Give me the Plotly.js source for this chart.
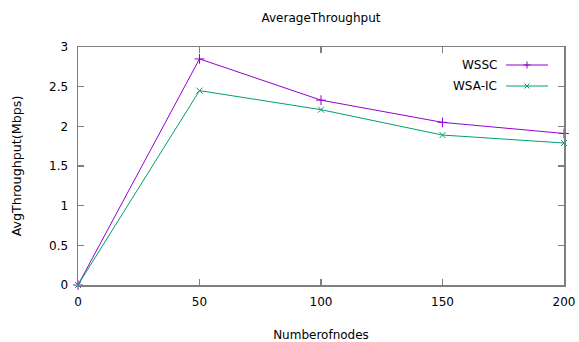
<!DOCTYPE html>
<html>
<head>
<meta charset="utf-8">
<script src="https://cdn.plot.ly/plotly-3.0.1.min.js"></script>
<style>html,body{margin:0;padding:0;background:#fff;}#chart{width:579px;height:342px;}</style>
</head>
<body>
<div id="chart"></div>
<script>
const nodes = [0, 50, 100, 150, 200];
const wssc = [0, 2.85, 2.33, 2.05, 1.91];
const wsaic = [0, 2.45, 2.21, 1.89, 1.79];
const seriesNames = ['WSSC', 'WSA-IC'];
const xTicks = [0, 50, 100, 150, 200];
const yTicks = [0, 0.5, 1, 1.5, 2, 2.5, 3];
const yTickText = ['0', '0.5', '1', '1.5', '2', '2.5', '3'];

const colors = ['#9400D3', '#009E73'];
const font = {family: 'DejaVu Sans', size: 12, color: '#000'};

const traces = [
  {x: nodes, y: wssc, name: seriesNames[0], mode: 'lines+markers', type: 'scatter',
   line: {color: colors[0], width: 1},
   marker: {symbol: 'cross-thin', size: 7, line: {color: colors[0], width: 1}, color: colors[0]},
   cliponaxis: false},
  {x: nodes, y: wsaic, name: seriesNames[1], mode: 'lines+markers', type: 'scatter',
   line: {color: colors[1], width: 1},
   marker: {symbol: 'x-thin', size: 6, line: {color: colors[1], width: 1}, color: colors[1]},
   cliponaxis: false}
];

// custom gnuplot-style legend (text left, sample right), positioned in pixels
const L = 78, R = 564, T = 47, B = 285;
const W = 579, H = 342;
const px = v => (v - L) / (R - L), py = v => (B - v) / (B - T);
const legendRows = [65, 86];
const shapes = [];
const annotations = [];
const ln = (x0, y0, x1, y1, c) => ({type: 'line', xref: 'paper', yref: 'paper',
  x0: px(x0), x1: px(x1), y0: py(y0), y1: py(y1), line: {color: c, width: 1}});
legendRows.forEach((yy, i) => {
  shapes.push(ln(506, yy, 548, yy, colors[i]));
  if (i === 0) {
    shapes.push(ln(527, yy - 3.5, 527, yy + 3.5, colors[i]));
    shapes.push(ln(523.5, yy, 530.5, yy, colors[i]));
  } else {
    shapes.push(ln(524.5, yy - 2.5, 529.5, yy + 2.5, colors[i]));
    shapes.push(ln(524.5, yy + 2.5, 529.5, yy - 2.5, colors[i]));
  }
  annotations.push({xref: 'paper', yref: 'paper', x: px(499), y: py(yy), xanchor: 'right', yanchor: 'middle',
                    text: seriesNames[i], showarrow: false, font: font});
});

const layout = {
  width: W, height: H,
  margin: {l: L, r: W - R, t: T, b: H - B, pad: 0},
  paper_bgcolor: '#fff', plot_bgcolor: '#fff',
  font: font,
  showlegend: false,
  title: {text: 'AverageThroughput', font: font, x: 0.5, xanchor: 'center', y: 1 - 18 / H, yanchor: 'middle', xref: 'paper', yref: 'container'},
  xaxis: {
    range: [0, 200], tickvals: xTicks, ticktext: xTicks.map(String),
    ticks: 'inside', ticklen: 6, tickwidth: 1.5, tickcolor: '#7f7f7f',
    showline: true, linecolor: '#7f7f7f', linewidth: 1.5, mirror: 'ticks',
    showgrid: false, zeroline: false, tickfont: font, ticklabelstandoff: 5,
    title: {text: 'Numberofnodes', font: font, standoff: 22}
  },
  yaxis: {
    range: [0, 3], tickvals: yTicks, ticktext: yTickText,
    ticks: 'inside', ticklen: 6, tickwidth: 1.5, tickcolor: '#7f7f7f',
    showline: true, linecolor: '#7f7f7f', linewidth: 1.5, mirror: 'ticks',
    showgrid: false, zeroline: false, tickfont: font, ticklabelstandoff: 6,
    title: {text: 'AvgThroughput(Mbps)', font: {family: 'DejaVu Sans', size: 12.7, color: '#000'}, standoff: 24}
  },
  shapes: shapes,
  annotations: annotations
};

Plotly.newPlot('chart', traces, layout, {displayModeBar: false, staticPlot: true});
</script>
</body>
</html>
